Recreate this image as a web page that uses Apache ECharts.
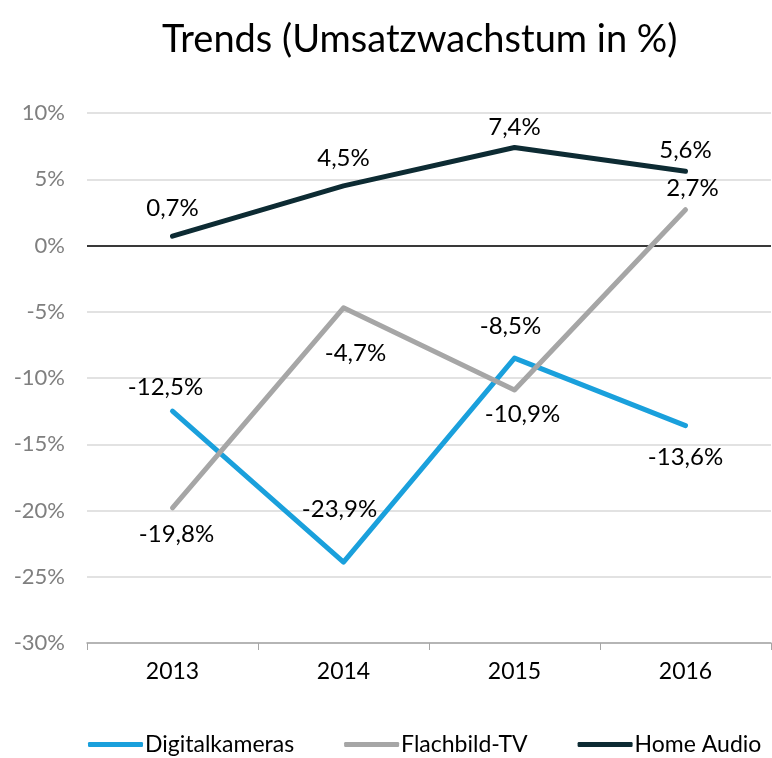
<!DOCTYPE html>
<html>
<head>
<meta charset="utf-8">
<script src="https://cdn.jsdelivr.net/npm/echarts@6/dist/echarts.min.js"></script>
<style>
  html, body { margin: 0; padding: 0; background: #fff; }
  #chart { width: 772px; height: 758px; }
</style>
</head>
<body>
<div id="chart"></div>
<script>
// Data
const years = ["2013", "2014", "2015", "2016"];
const digitalkameras = [-12.5, -23.9, -8.5, -13.6];
const flachbildTv = [-19.8, -4.7, -10.9, 2.7];
const homeAudio = [0.7, 4.5, 7.4, 5.6];

// label offsets (dx, dy from point) to mimic the hand-placed labels
const offsetsDigital = [[-7, -24], [-4, -53], [-4, -32], [0, 32]];
const offsetsTv = [[4, 26], [12, 45], [8, 24], [7, -21]];
const offsetsAudio = [[0, -28], [0, -28], [0, -20], [0, -21]];

const FONT = "Lato, 'Open Sans', sans-serif";

const fmt = (v) => v.toFixed(1).replace(".", ",") + "%";

function makeSeries(name, values, offsets, color) {
  return {
    name,
    type: "line",
    symbol: "circle",
    symbolSize: 0.1,
    lineStyle: { width: 5, color, cap: "round", join: "round" },
    itemStyle: { color },
    data: values.map((v, i) => ({
      value: v,
      label: { offset: offsets[i] },
    })),
    label: {
      show: true,
      position: "inside",
      color: "#000",
      fontSize: 24,
      fontFamily: FONT,
      formatter: (p) => fmt(p.value),
    },
    z: 3,
  };
}

const chart = echarts.init(document.getElementById("chart"));

const series = [
  makeSeries("Digitalkameras", digitalkameras, offsetsDigital, "#1aa0dc"),
  makeSeries("Flachbild-TV", flachbildTv, offsetsTv, "#a6a6a6"),
  makeSeries("Home Audio", homeAudio, offsetsAudio, "#0d2b33"),
];

// black zero line
series[0].markLine = {
  silent: true,
  symbol: "none",
  label: { show: false },
  lineStyle: { color: "#000", width: 1.5, type: "solid" },
  data: [{ yAxis: 0 }],
  z: 2,
};

chart.setOption({
  animation: false,
  textStyle: { fontFamily: FONT },
  title: {
    text: "Trends (Umsatzwachstum in %)",
    left: 157,
    top: 16,
    textStyle: { fontSize: 38, fontWeight: "normal", color: "#000", fontFamily: FONT },
  },
  grid: { left: 87, right: 1, top: 113, bottom: 115 },
  legend: {
    bottom: 2,
    left: 88,
    width: 700,
    padding: 0,
    itemWidth: 55,
    itemHeight: 5,
    itemGap: 50,
    icon: "roundRect",
    textStyle: { fontSize: 23, color: "#000", fontFamily: FONT, padding: [0, 0, 0, -3] },
    data: ["Digitalkameras", "Flachbild-TV", "Home Audio"],
  },
  xAxis: {
    type: "category",
    data: years,
    boundaryGap: true,
    axisLine: { onZero: false, lineStyle: { color: "#a6a6a6", width: 1.5 } },
    axisTick: { show: true, length: 7, lineStyle: { color: "#a6a6a6" } },
    axisLabel: { fontSize: 23, color: "#000", margin: 17, fontFamily: FONT },
  },
  yAxis: {
    type: "value",
    min: -30,
    max: 10,
    interval: 5,
    axisLine: { show: false },
    axisTick: { show: false },
    splitLine: { lineStyle: { color: "#d9d9d9", width: 1.5 } },
    axisLabel: {
      fontSize: 22,
      color: "#7f7f7f",
      margin: 22,
      fontFamily: FONT,
      formatter: (v) => v + "%",
    },
  },
  series,
});
</script>
</body>
</html>
